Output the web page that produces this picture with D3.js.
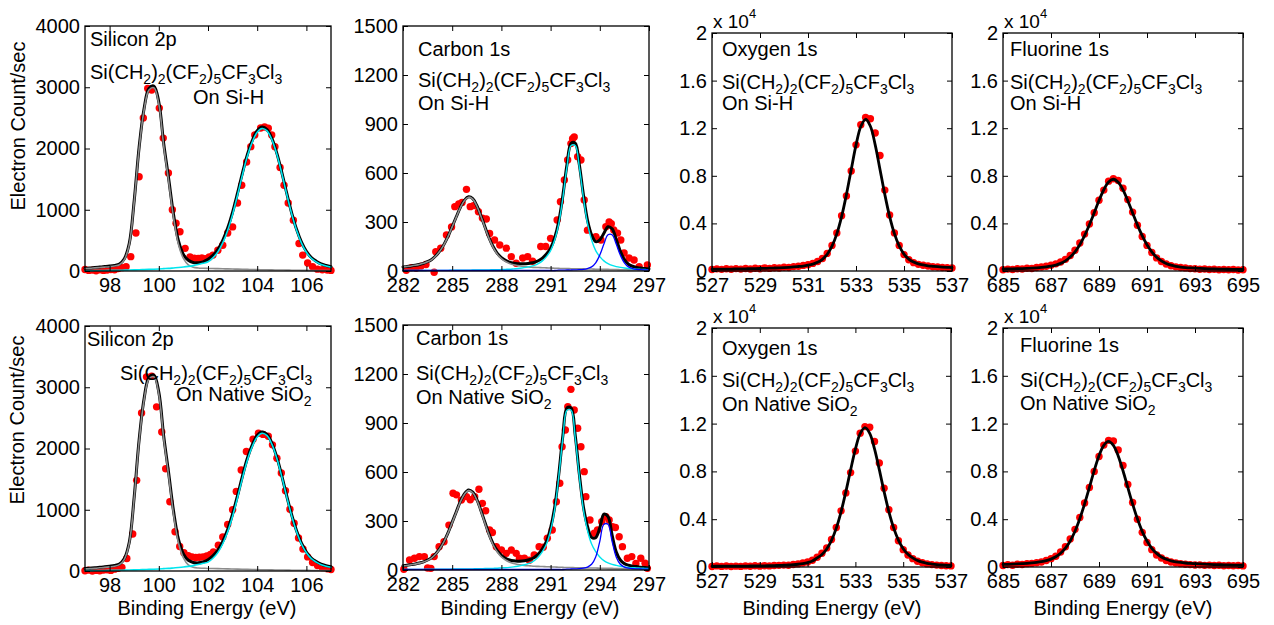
<!DOCTYPE html>
<html>
<head>
<meta charset="utf-8">
<script src="https://cdn.jsdelivr.net/npm/d3@7"></script>
<style>
  body { margin: 0; background: #fff; }
  svg { font-family: "Liberation Sans", Arial, Helvetica, sans-serif; display: block; }
</style>
</head>
<body>
<svg id="chart" width="1274" height="625"></svg>
<script>
// ---------------- Energy grids of the fitted envelopes (eV) ----------------
const siGrid = [97,97.2,97.4,97.6,97.8,98,98.2,98.4,98.6,98.8,
  99,99.2,99.4,99.6,99.8,100,100.2,100.4,100.6,100.8,
  101,101.2,101.4,101.6,101.8,102,102.2,102.4,102.6,102.8,
  103,103.2,103.4,103.6,103.8,104,104.2,104.4,104.6,104.8,
  105,105.2,105.4,105.6,105.8,106,106.2,106.4,106.6,106.8,107];
const cGrid = [282,282.25,282.5,282.75,283,283.25,283.5,283.75,284,284.25,
  284.5,284.75,285,285.25,285.5,285.75,286,286.25,286.5,286.75,
  287,287.25,287.5,287.75,288,288.25,288.5,288.75,289,289.25,
  289.5,289.75,290,290.25,290.5,290.75,291,291.25,291.5,291.75,
  292,292.25,292.5,292.75,293,293.25,293.5,293.75,294,294.25,
  294.5,294.75,295,295.25,295.5,295.75,296,296.25,296.5,296.75,297];
const oGrid = [527,527.2,527.4,527.6,527.8,528,528.2,528.4,528.6,528.8,
  529,529.2,529.4,529.6,529.8,530,530.2,530.4,530.6,530.8,
  531,531.2,531.4,531.6,531.8,532,532.2,532.4,532.6,532.8,
  533,533.2,533.4,533.6,533.8,534,534.2,534.4,534.6,534.8,
  535,535.2,535.4,535.6,535.8,536,536.2,536.4,536.6,536.8,537];
const fGrid = [685,685.2,685.4,685.6,685.8,686,686.2,686.4,686.6,686.8,
  687,687.2,687.4,687.6,687.8,688,688.2,688.4,688.6,688.8,
  689,689.2,689.4,689.6,689.8,690,690.2,690.4,690.6,690.8,
  691,691.2,691.4,691.6,691.8,692,692.2,692.4,692.6,692.8,
  693,693.2,693.4,693.6,693.8,694,694.2,694.4,694.6,694.8,695];

// ---------------- Silicon 2p ----------------
const siHEnvelope = [45,50,58,65,72,80,92,115,200,450,
  1150,2020,2650,2980,3020,2760,2080,1510,920,490,
  270,175,140,135,150,190,255,350,500,700,
  960,1270,1600,1900,2130,2290,2350,2310,2160,1920,
  1610,1270,950,680,470,320,220,160,115,90,70];
const siHSi = [40,44,51,57,63,70,81,103,186,434,
  1132,2000,2627,2954,2991,2727,2042,1467,870,433,
  205,100,62,50,45,42,40,38,36,34,
  32,30,28,26,24,22,21,20,18,17,
  16,15,13,12,11,10,9,8,7,6,5];
const siHOxide = [5,6,7,8,9,10,11,12,14,16,
  18,20,23,26,29,33,38,43,50,57,
  65,75,88,105,125,150,215,310,460,662,
  925,1237,1570,1872,2105,2266,2327,2288,2140,1901,
  1592,1253,934,665,456,307,208,149,105,81,63];
const siHCounts = [[97.0,25],[97.15,10],[97.3,15],[97.45,5],[97.6,20],[97.75,10],[97.9,15],[98.05,25],[98.2,20],[98.35,40],
  [98.5,55],[98.67,70],[98.86,234],[99.07,620],[99.2,1540],[99.37,2500],[99.55,2980],[99.71,2955],[100.02,2660],[100.18,2170],
  [100.39,1600],[100.55,1000],[100.7,780],[100.86,640],[101.07,370],[101.27,230],[101.45,210],[101.6,205],[101.75,215],[101.9,200],
  [102.05,230],[102.2,260],[102.4,340],[102.6,420],[102.8,620],[103.0,720],[103.2,1110],[103.37,1400],[103.57,1780],[103.74,2030],
  [103.9,2220],[104.14,2335],[104.3,2350],[104.45,2330],[104.59,2220],[104.72,2030],[104.93,1690],[105.09,1400],[105.26,1110],[105.47,830],
  [105.7,450],[105.85,260],[106.05,130],[106.25,70],[106.45,30],[106.65,20],[106.85,15],[107.0,10]];

const siNEnvelope = [40,46,52,60,68,78,90,115,205,470,
  1210,2140,2810,3160,3200,2920,2200,1600,975,515,
  280,175,140,133,147,185,248,340,485,678,
  930,1230,1550,1840,2060,2215,2270,2230,2085,1855,
  1555,1225,918,657,454,310,212,155,112,87,68];
const siNSi = [35,40,45,52,59,68,79,103,191,454,
  1192,2120,2787,3134,3171,2887,2162,1557,925,458,
  215,100,60,48,45,42,40,38,36,34,
  32,30,28,26,24,22,21,20,18,17,
  16,15,13,12,11,10,9,8,7,6,5];
const siNOxide = [5,6,7,8,9,10,11,12,14,16,
  18,20,23,26,29,33,38,43,50,57,
  65,75,88,105,125,145,208,300,445,640,
  894,1195,1517,1809,2033,2189,2248,2210,2067,1836,
  1538,1210,902,642,440,297,201,144,101,78,61];
const siNCounts = [[97.0,5],[97.15,15],[97.3,0],[97.45,10],[97.6,5],[97.75,15],[97.9,20],[98.05,10],[98.2,30],[98.35,45],
  [98.5,60],[98.7,205],[98.94,605],[99.1,1480],[99.3,2580],[99.5,3170],[99.71,3180],[99.91,2680],[100.12,2270],[100.28,1670],
  [100.45,1130],[100.66,640],[100.85,400],[101.02,300],[101.2,250],[101.35,230],[101.5,220],[101.65,225],[101.8,230],[101.95,245],
  [102.1,270],[102.22,310],[102.42,420],[102.6,555],[102.8,760],[103.0,1000],[103.15,1300],[103.35,1650],[103.56,1950],[103.83,2150],
  [104.05,2250],[104.24,2230],[104.45,2200],[104.62,2060],[104.8,1840],[104.98,1600],[105.15,1310],[105.33,1010],[105.5,780],[105.68,540],
  [105.86,360],[106.05,230],[106.25,140],[106.45,90],[106.65,55],[106.85,35],[107.0,25]];

// ---------------- Carbon 1s ----------------
const cHEnvelope = [25,28,31,35,40,47,57,71,93,123,
  163,213,272,332,390,434,454,443,401,338,
  269,202,148,108,82,65,54,48,45,44,
  45,48,53,63,79,104,140,204,305,464,
  652,782,783,652,467,311,221,180,191,231,
  271,259,195,122,70,41,29,21,18,15,13];
const cHCH2 = [25,28,31,35,40,47,56,70,92,122,
  162,212,270,330,388,432,452,440,398,335,
  265,198,143,103,76,58,46,38,33,29,
  26,24,22,21,20,19,18,17,16,15,
  15,14,14,13,13,12,12,11,11,10,
  10,9,9,8,8,7,7,6,6,5,5];
const cHCF2 = [3,3,3,3,3,3,4,4,4,4,
  4,4,5,5,5,5,5,6,6,6,
  7,7,8,8,9,10,11,13,15,18,
  22,27,34,45,62,88,125,190,290,450,
  637,768,768,637,450,290,190,125,88,62,
  45,34,27,22,18,15,13,11,10,9,8];
const cHCF3 = [3,3,3,3,3,3,3,3,3,3,
  3,3,3,3,3,3,3,3,3,3,
  3,3,3,3,3,3,3,3,3,3,
  3,3,3,3,3,3,3,3,5,5,
  6,6,7,8,10,15,25,50,98,165,
  222,222,165,98,50,25,15,10,8,7,6];
const cHCounts = [[282.2,5],[282.5,20],[282.8,17],[283.1,30],[283.4,40],[283.9,-8],[284.0,118],[284.3,140],[284.65,220],[284.96,270],
  [285.16,394],[285.4,410],[285.6,420],[285.87,500],[286.1,394],[286.3,400],[286.6,363],[286.84,324],[287.08,318],[287.28,230],
  [287.58,190],[287.9,159],[288.3,140],[288.6,88],[288.9,47],[289.3,80],[289.6,88],[289.9,60],[290.4,150],[290.7,150],
  [291.0,200],[291.4,312],[291.6,424],[291.84,557],[292.04,680],[292.24,780],[292.34,810],[292.44,820],[292.65,700],[292.85,680],
  [293.05,435],[293.25,250],[293.76,210],[294.07,190],[294.37,271],[294.57,300],[294.7,290],[294.85,251],[295.08,232],[295.28,190],
  [295.48,110],[295.78,80],[296.09,67],[296.4,26],[296.9,37]];

const cNEnvelope = [26,29,33,37,43,50,61,76,100,132,
  175,229,293,357,420,467,490,477,433,365,
  291,218,160,118,90,72,61,56,54,55,
  58,65,77,98,130,176,258,385,587,824,
  992,993,826,589,388,267,200,198,259,342,
  327,213,111,61,39,29,23,21,17,15,13];
const cNCH2 = [25,28,32,36,42,49,59,74,98,130,
  173,227,290,354,417,464,486,473,428,360,
  285,212,153,110,80,61,48,40,34,30,
  27,25,23,22,21,20,19,18,17,16,
  15,15,14,14,13,13,12,12,11,11,
  10,10,9,9,8,8,7,7,6,6,5];
const cNCF2 = [4,4,4,4,4,4,5,5,5,5,
  5,5,6,6,6,6,7,7,8,8,
  9,9,10,11,13,14,16,19,23,28,
  34,43,57,79,112,159,242,370,573,811,
  978,978,811,573,370,242,159,112,79,57,
  43,34,28,23,19,16,14,13,11,10,9];
const cNCF3 = [3,3,3,3,3,3,3,3,3,3,
  3,3,3,3,3,3,3,3,3,3,
  3,3,3,3,3,3,3,3,3,3,
  3,3,3,3,3,3,3,3,3,3,
  5,6,7,8,11,18,35,80,175,280,
  280,175,80,35,18,11,8,7,6,5,5];
const cNCounts = [[282.05,5],[282.4,61],[282.7,72],[283.0,82],[283.3,82],[283.5,12],[283.7,10],[283.9,82],[284.2,143],[284.5,173],
  [284.8,275],[285.05,470],[285.26,460],[285.56,428],[285.87,449],[286.1,430],[286.37,449],[286.63,494],[286.84,408],[287.04,363],
  [287.28,245],[287.45,230],[287.69,143],[288.0,122],[288.3,102],[288.6,122],[288.9,102],[289.1,72],[289.4,72],[289.7,60],
  [290.0,92],[290.3,143],[290.55,140],[290.8,194],[291.1,245],[291.35,418],[291.56,531],[291.7,755],[291.9,857],[292.05,1000],
  [292.24,1106],[292.44,980],[292.65,868],[292.85,755],[293.05,602],[293.15,449],[293.4,306],[293.66,225],[293.86,245],[294.12,296],
  [294.37,326],[294.57,306],[294.77,265],[294.95,260],[295.18,204],[295.38,143],[295.68,72],[295.95,82],[296.2,40],[296.5,72],
  [296.76,41],[296.9,10]];

// ---------------- Oxygen 1s ----------------
const oHEnvelope = [148,152,156,161,166,171,177,185,192,201,
  211,223,235,251,268,289,313,342,377,419,
  487,580,730,981,1403,2084,3120,4568,6415,8515,
  10577,12145,12750,12165,10597,8535,6435,4588,3140,2104,
  1423,1001,750,600,507,439,397,362,333,309,288];
const oHCounts = [120,180,140,190,150,200,160,210,170,230,
  190,250,220,270,250,310,290,370,400,470,
  520,640,800,1050,1480,2150,3200,4650,6300,8400,
  10600,12300,12900,12800,11600,9700,6800,4700,3200,2150,
  1380,950,700,560,480,420,360,330,300,270,250];
const oNEnvelope = [60,62,64,66,68,71,74,78,82,87,
  93,100,108,118,130,146,166,193,230,285,
  370,500,758,1048,1512,2225,3252,4620,6291,8124,
  9864,11163,11660,11183,9884,8144,6311,4640,3272,2245,
  1532,1068,760,540,400,310,250,200,170,150,130];
const oNCounts = [40,90,50,80,40,70,50,90,60,100,
  70,110,90,120,140,160,150,210,260,330,
  420,560,820,1150,1600,2300,3300,4700,6200,7900,
  9700,11200,11750,11700,10500,8700,6600,4800,3300,2200,
  1450,1000,700,480,350,260,200,160,130,110,90];

// ---------------- Fluorine 1s ----------------
const fHEnvelope = [163,172,183,195,208,224,243,268,300,343,
  405,498,640,856,1169,1613,2210,2975,3885,4895,
  5920,6830,7473,7710,7463,6820,5910,4885,3875,2965,
  2200,1603,1159,846,630,488,395,333,290,258,
  233,214,198,185,173,162,153,146,138,132,127];
const fHCounts = [100,160,120,190,170,230,210,290,330,400,
  480,600,760,980,1300,1750,2350,3100,3950,4900,
  5950,6800,7550,7750,7600,6950,6000,4950,3850,2900,
  2150,1550,1100,800,590,440,350,290,260,200,
  190,150,170,120,150,110,130,100,120,90,110];
const fNEnvelope = [214,228,244,263,285,310,344,388,447,531,
  659,852,1147,1575,2181,2996,4041,5285,6664,8065,
  9308,10186,10510,10176,9298,8055,6654,5275,4031,2986,
  2171,1565,1137,842,649,521,437,378,334,300,
  275,253,234,218,204,191,181,170,162,155,148];
const fNCounts = [120,200,150,230,210,280,300,360,420,540,
  700,900,1250,1700,2350,3150,4150,5350,6650,8000,
  9250,10200,10600,10550,9800,8500,6900,5400,4000,2900,
  2050,1450,1000,750,540,420,330,280,230,200,
  170,180,140,160,120,150,110,130,100,120,90];

// ---------------- Tick values ----------------
const siTicksX = [98,100,102,104,106];
const siTicksY = [0,1000,2000,3000,4000];
const cTicksX = [282,285,288,291,294,297];
const cTicksY = [0,300,600,900,1200,1500];
const oTicksX = [527,529,531,533,535,537];
const fTicksX = [685,687,689,691,693,695];
const e4TicksY = [0,4000,8000,12000,16000,20000];

// ---------------- Annotation texts ([text, isSubscript]) ----------------
const formula = [["Si(CH",0],["2",1],[")",0],["2",1],["(CF",0],["2",1],[")",0],["5",1],["CF",0],["3",1],["Cl",0],["3",1]];
const onSiH = [["On Si-H",0]];
const onNative = [["On Native SiO",0],["2",1]];

const BLACK = "#000", GRAY = "#8c8c8c", CYAN = "#00e5ee", BLUE = "#0000ff";

const svg = d3.select("#chart");
const FONT = 20, SUB = 14;

function richText(g, x, y, parts) {
  const t = g.append("text").attr("x", x).attr("y", y).attr("font-size", FONT).attr("fill", "#000");
  let low = false;
  parts.forEach(([s, sub]) => {
    const ts = t.append("tspan").text(s);
    if (sub) {
      ts.attr("font-size", SUB);
      if (!low) { ts.attr("dy", 5); low = true; }
    } else if (low) {
      ts.attr("dy", -5); low = false;
    }
  });
}

function panel(cfg) {
  const [L, R, T, B] = cfg.box;
  const g = svg.append("g");
  const x = d3.scaleLinear().domain(cfg.xDomain).range([L, R]);
  const y = d3.scaleLinear().domain(cfg.yDomain).range([B, T]);

  // measured counts
  g.append("g").selectAll("circle").data(cfg.points).join("circle")
    .attr("cx", d => x(d[0])).attr("cy", d => y(d[1]))
    .attr("r", 3.7).attr("fill", "#ff0000");

  // fitted envelope and components
  cfg.curves.forEach(c => {
    const line = d3.line().x((d, i) => x(c.xs[i])).y(d => y(d)).curve(d3.curveCatmullRom.alpha(0.5));
    g.append("path").attr("d", line(c.ys)).attr("fill", "none")
      .attr("stroke", c.color).attr("stroke-width", c.width)
      .attr("stroke-linejoin", "round").attr("stroke-linecap", "round");
  });

  // frame
  g.append("rect").attr("x", L).attr("y", T).attr("width", R - L).attr("height", B - T)
    .attr("fill", "none").attr("stroke", "#000").attr("stroke-width", 1.3);

  const style = sel => {
    sel.select(".domain").remove();
    sel.attr("font-family", null).attr("font-size", null);
    sel.selectAll("text").attr("font-size", FONT).attr("fill", "#000");
    sel.selectAll("line").attr("stroke", "#000").attr("stroke-width", 1);
  };
  g.append("g").attr("transform", `translate(0,${B})`)
    .call(d3.axisBottom(x).tickValues(cfg.xTicks).tickSizeInner(-5).tickSizeOuter(0).tickPadding(7).tickFormat(d3.format("d")))
    .call(style);
  g.append("g").attr("transform", `translate(0,${T})`)
    .call(d3.axisTop(x).tickValues(cfg.xTicks).tickSizeInner(-5).tickSizeOuter(0).tickFormat(""))
    .call(style);
  g.append("g").attr("transform", `translate(${L},0)`)
    .call(d3.axisLeft(y).tickValues(cfg.yTicks).tickSizeInner(-5).tickSizeOuter(0).tickPadding(5).tickFormat(cfg.yFormat))
    .call(style);
  g.append("g").attr("transform", `translate(${R},0)`)
    .call(d3.axisRight(y).tickValues(cfg.yTicks).tickSizeInner(-5).tickSizeOuter(0).tickFormat(""))
    .call(style);

  // multiplier label
  if (cfg.exponent) {
    const t = g.append("text").attr("x", L + 1).attr("y", T - 5).attr("font-size", 19).attr("fill", "#000");
    t.append("tspan").text("x 10");
    t.append("tspan").text("4").attr("font-size", 13).attr("dy", -10);
  }

  cfg.labels.forEach(l => richText(g, l.x, l.y, l.parts));

  if (cfg.xLabel) {
    g.append("text").attr("x", cfg.xLabel).attr("y", 615).attr("text-anchor", "middle")
      .attr("font-size", FONT).attr("fill", "#000").text("Binding Energy (eV)");
  }
  if (cfg.yLabel) {
    g.append("text").attr("transform", `translate(${cfg.yLabel[0]},${cfg.yLabel[1]}) rotate(-90)`)
      .attr("text-anchor", "middle").attr("font-size", FONT).attr("fill", "#000").text("Electron Count/sec");
  }
}

const intFmt = d3.format("d");
const e4Fmt = d => String(d / 10000);
const pairs = (xs, ys) => xs.map((v, i) => [v, ys[i]]);

const siCurves = (env, si, ox) => [
  { xs: siGrid, ys: env, color: BLACK, width: 3 },
  { xs: siGrid, ys: si, color: GRAY, width: 1.6 },
  { xs: siGrid, ys: ox, color: CYAN, width: 1.6 }
];
const cCurves = (env, a, b, c) => [
  { xs: cGrid, ys: env, color: BLACK, width: 3 },
  { xs: cGrid, ys: a, color: GRAY, width: 1.6 },
  { xs: cGrid, ys: b, color: CYAN, width: 1.4 },
  { xs: cGrid, ys: c, color: BLUE, width: 1.3 }
];

// top row: monolayer on Si-H
panel({ box: [85, 331, 26, 271], xDomain: [97, 107], yDomain: [0, 4000], xTicks: siTicksX, yTicks: siTicksY, yFormat: intFmt,
  points: siHCounts, curves: siCurves(siHEnvelope, siHSi, siHOxide), yLabel: [25, 126],
  labels: [{ x: 90, y: 46, parts: [["Silicon 2p",0]] }, { x: 90, y: 79, parts: formula }, { x: 193, y: 104, parts: onSiH }] });
panel({ box: [403, 649, 26, 271], xDomain: [282, 297], yDomain: [0, 1500], xTicks: cTicksX, yTicks: cTicksY, yFormat: intFmt,
  points: cHCounts, curves: cCurves(cHEnvelope, cHCH2, cHCF2, cHCF3),
  labels: [{ x: 418, y: 56, parts: [["Carbon 1s",0]] }, { x: 418, y: 87, parts: formula }, { x: 418, y: 110, parts: onSiH }] });
panel({ box: [712, 952, 33, 271], xDomain: [527, 537], yDomain: [0, 20000], xTicks: oTicksX, yTicks: e4TicksY, yFormat: e4Fmt, exponent: true,
  points: pairs(oGrid, oHCounts), curves: [{ xs: oGrid, ys: oHEnvelope, color: BLACK, width: 2.8 }],
  labels: [{ x: 722, y: 56, parts: [["Oxygen 1s",0]] }, { x: 722, y: 89, parts: formula }, { x: 722, y: 110, parts: onSiH }] });
panel({ box: [1003, 1243, 33, 271], xDomain: [685, 695], yDomain: [0, 20000], xTicks: fTicksX, yTicks: e4TicksY, yFormat: e4Fmt, exponent: true,
  points: pairs(fGrid, fHCounts), curves: [{ xs: fGrid, ys: fHEnvelope, color: BLACK, width: 2.8 }],
  labels: [{ x: 1010, y: 56, parts: [["Fluorine 1s",0]] }, { x: 1010, y: 89, parts: formula }, { x: 1010, y: 110, parts: onSiH }] });

// bottom row: monolayer on native oxide
panel({ box: [85, 331, 326, 571], xDomain: [97, 107], yDomain: [0, 4000], xTicks: siTicksX, yTicks: siTicksY, yFormat: intFmt,
  points: siNCounts, curves: siCurves(siNEnvelope, siNSi, siNOxide), yLabel: [24, 420], xLabel: 207,
  labels: [{ x: 87, y: 346, parts: [["Silicon 2p",0]] }, { x: 120, y: 380, parts: formula }, { x: 176, y: 401, parts: onNative }] });
panel({ box: [403, 649, 325, 570], xDomain: [282, 297], yDomain: [0, 1500], xTicks: cTicksX, yTicks: cTicksY, yFormat: intFmt,
  points: cNCounts, curves: cCurves(cNEnvelope, cNCH2, cNCF2, cNCF3), xLabel: 530,
  labels: [{ x: 416, y: 345, parts: [["Carbon 1s",0]] }, { x: 416, y: 380, parts: formula }, { x: 416, y: 404, parts: onNative }] });
panel({ box: [712, 951, 328, 567], xDomain: [527, 537], yDomain: [0, 20000], xTicks: oTicksX, yTicks: e4TicksY, yFormat: e4Fmt, exponent: true,
  points: pairs(oGrid, oNCounts), curves: [{ xs: oGrid, ys: oNEnvelope, color: BLACK, width: 2.8 }], xLabel: 832,
  labels: [{ x: 722, y: 355, parts: [["Oxygen 1s",0]] }, { x: 722, y: 387, parts: formula }, { x: 722, y: 411, parts: onNative }] });
panel({ box: [1003, 1243, 328, 567], xDomain: [685, 695], yDomain: [0, 20000], xTicks: fTicksX, yTicks: e4TicksY, yFormat: e4Fmt, exponent: true,
  points: pairs(fGrid, fNCounts), curves: [{ xs: fGrid, ys: fNEnvelope, color: BLACK, width: 2.8 }], xLabel: 1123,
  labels: [{ x: 1020, y: 352, parts: [["Fluorine 1s",0]] }, { x: 1020, y: 387, parts: formula }, { x: 1020, y: 410, parts: onNative }] });
</script>
</body>
</html>
